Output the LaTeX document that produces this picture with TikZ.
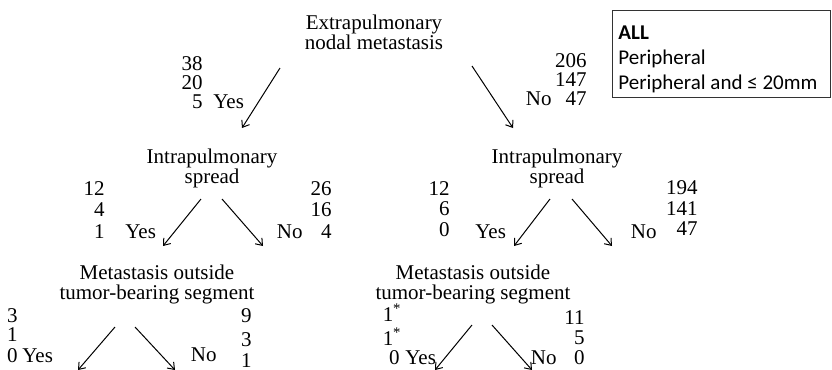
\documentclass[tikz,border=0pt]{standalone}
\usepackage{fontspec}
\setmainfont{Liberation Serif}
\newfontfamily\legendfont{Carlito}
\usetikzlibrary{arrows.meta}
\begin{document}
\begin{tikzpicture}[x=0.5pt, y=-0.5pt]
        \tikzstyle{title_style} = [align=center, inner sep=0pt, font=\fontsize{10.5}{10}\selectfont]
        \tikzstyle{num_style} = [anchor=base east, inner sep=0pt, font=\fontsize{10.5}{12}\selectfont]
        \tikzstyle{label_style} = [anchor=base west, inner sep=0pt, font=\fontsize{10.5}{12}\selectfont]
        \tikzstyle{arrow_style1} = [-{Straight Barb[length=3pt,width=4.5pt]}, black, line width=0.5pt]
        \tikzstyle{legend_style} = [anchor=base west, inner sep=0pt, font=\legendfont\fontsize{10.5}{12}\selectfont]

        \useasboundingbox (0,0) rectangle (832,370);

        % Legend box at the top right
        \node[draw=black!80, line width=0.5pt, minimum width=109pt, minimum height=43.5pt, inner sep=0pt] (legend) at (721,53.5) {};
        \node[legend_style] (lg1) at (618,39) {\bfseries ALL};
        \node[legend_style] (lg2) at (618,64) {Peripheral};
        \node[legend_style] (lg3) at (618,89) {Peripheral and ≤ 20mm};

        % This is the root at the top
        \node[title_style] (t0) at (374,32) {Extrapulmonary\\nodal metastasis};
        \coordinate (a1s) at (280,68);  \coordinate (a1e) at (242,128);
        \coordinate (a2s) at (472,66);  \coordinate (a2e) at (513,128);
        \draw[arrow_style1] (a1s) -- (a1e);
        \draw[arrow_style1] (a2s) -- (a2e);

        \node[num_style] (n01) at (203,70) {38};
        \node[num_style] (n02) at (203,89) {20};
        \node[num_style] (n03) at (203,108) {5};
        \node[label_style] (y0) at (213,108) {Yes};
        \node[num_style] (n04) at (587,67) {206};
        \node[num_style] (n05) at (587,86) {147};
        \node[num_style] (n06) at (587,105) {47};
        \node[num_style] (no0) at (552,105) {No};

        % Then the left one in the middle
        \node[title_style] (t1) at (212,168) {Intrapulmonary\\spread};
        \coordinate (b1s) at (201,199);  \coordinate (b1e) at (163,246);
        \coordinate (b2s) at (222,199);  \coordinate (b2e) at (263,246);
        \draw[arrow_style1] (b1s) -- (b1e);
        \draw[arrow_style1] (b2s) -- (b2e);

        \node[num_style] (n11) at (105,195) {12};
        \node[num_style] (n12) at (105,216) {4};
        \node[num_style] (n13) at (105,238) {1};
        \node[label_style] (y1) at (125,238) {Yes};
        \node[num_style] (n14) at (332,195) {26};
        \node[num_style] (n15) at (332,216) {16};
        \node[num_style] (n16) at (332,238) {4};
        \node[num_style] (no1) at (303,238) {No};

        % Then the right one in the middle
        \node[title_style] (t2) at (557,168) {Intrapulmonary\\spread};
        \coordinate (c1s) at (550,199);  \coordinate (c1e) at (514,246);
        \coordinate (c2s) at (572,199);  \coordinate (c2e) at (612,246);
        \draw[arrow_style1] (c1s) -- (c1e);
        \draw[arrow_style1] (c2s) -- (c2e);

        \node[num_style] (n21) at (450,195) {12};
        \node[num_style] (n22) at (450,215) {6};
        \node[num_style] (n23) at (450,236) {0};
        \node[label_style] (y2) at (475,238) {Yes};
        \node[num_style] (n24) at (698,194) {194};
        \node[num_style] (n25) at (698,215) {141};
        \node[num_style] (n26) at (698,235) {47};
        \node[num_style] (no2) at (657,238) {No};

        % Then the left one at the bottom
        \node[title_style] (t3) at (157,284) {Metastasis outside\\tumor-bearing segment};
        \coordinate (d1s) at (115,327);  \coordinate (d1e) at (78,370);
        \coordinate (d2s) at (135,327);  \coordinate (d2e) at (175,370);
        \draw[arrow_style1] (d1s) -- (d1e);
        \draw[arrow_style1] (d2s) -- (d2e);

        \node[num_style] (n31) at (18,322) {3};
        \node[num_style] (n32) at (18,341) {1};
        \node[num_style] (n33) at (18,362) {0};
        \node[label_style] (y3) at (22,362) {Yes};
        \node[num_style] (n34) at (252,322) {9};
        \node[num_style] (n35) at (252,346) {3};
        \node[num_style] (n36) at (252,367) {1};
        \node[num_style] (no3) at (217,361) {No};

        % Then the right one at the bottom
        \node[title_style] (t4) at (473,284) {Metastasis outside\\tumor-bearing segment};
        \coordinate (e1s) at (472,325);  \coordinate (e1e) at (435,370);
        \coordinate (e2s) at (492,325);  \coordinate (e2e) at (532,370);
        \draw[arrow_style1] (e1s) -- (e1e);
        \draw[arrow_style1] (e2s) -- (e2e);

        \node[num_style] (n41) at (402,321) {1\textsuperscript{*}};
        \node[num_style] (n42) at (402,345) {1\textsuperscript{*}};
        \node[num_style] (n43) at (400,364) {0};
        \node[label_style] (y4) at (405,364) {Yes};
        \node[num_style] (n44) at (585,324) {11};
        \node[num_style] (n45) at (585,344) {5};
        \node[num_style] (n46) at (585,364) {0};
        \node[num_style] (no4) at (557,364) {No};
    \end{tikzpicture}
\end{document}
